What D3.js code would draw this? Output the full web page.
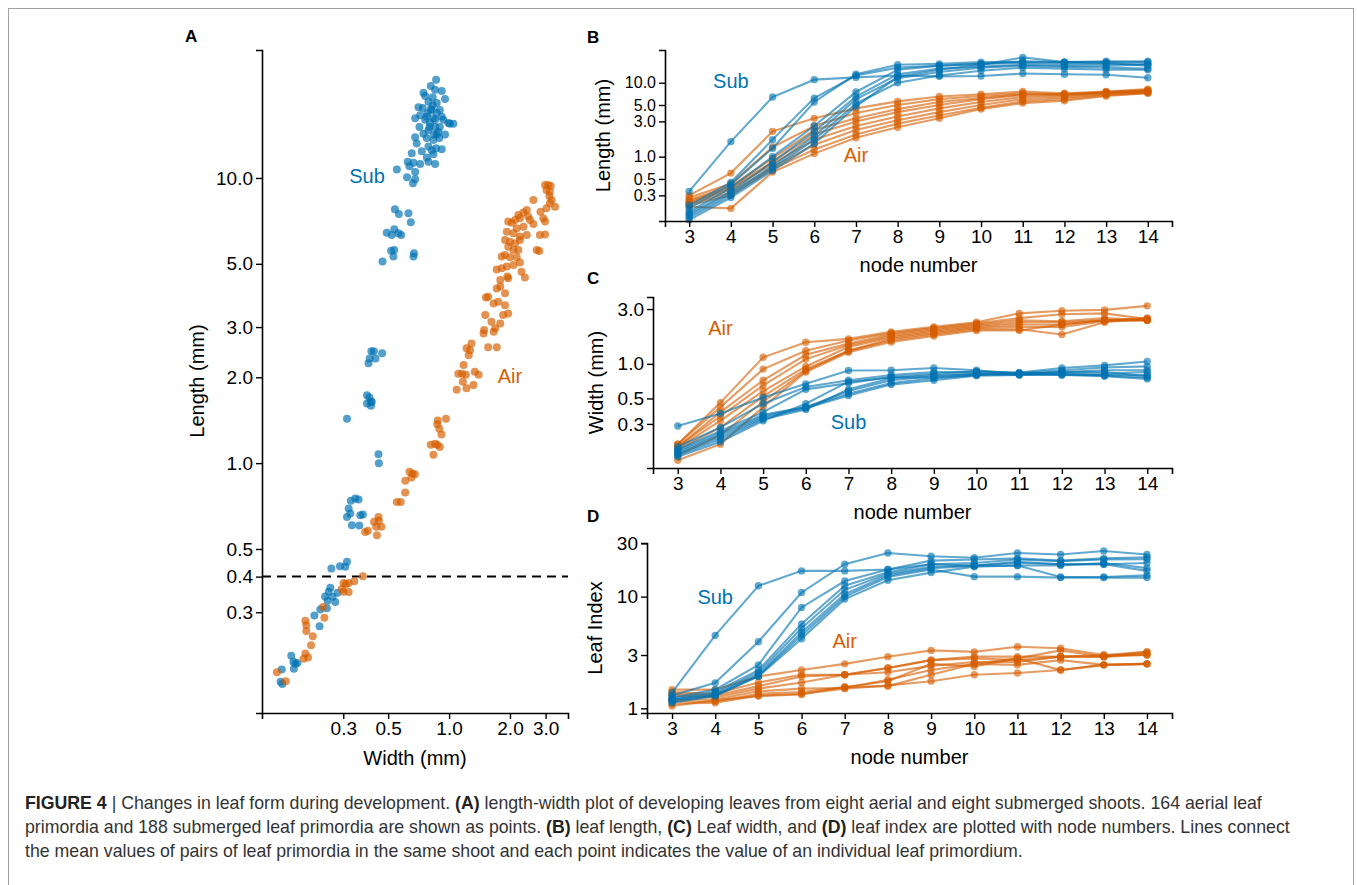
<!DOCTYPE html>
<html>
<head>
<meta charset="utf-8">
<script src="https://cdn.jsdelivr.net/npm/d3@7"></script>
<style>
  body { margin: 0; background: #fff; }
  text { font-family: "Liberation Sans", Arial, Helvetica, sans-serif; }
</style>
</head>
<body>
<svg id="fig" width="1357" height="885"></svg>
<script>
// ---- data ----
var nodes = [3, 4, 5, 6, 7, 8, 9, 10, 11, 12, 13, 14];

// panel A: individual primordia [width, length] in mm
var subPoints = [
  [0.149, 0.189], [0.147, 0.171], [0.150, 0.168], [0.166, 0.211], [0.170, 0.201], [0.174, 0.198],
  [0.178, 0.199], [0.171, 0.190], [0.216, 0.292], [0.229, 0.268], [0.231, 0.307], [0.249, 0.310],
  [0.251, 0.329], [0.244, 0.341], [0.254, 0.354], [0.259, 0.366], [0.266, 0.340], [0.274, 0.326],
  [0.281, 0.351], [0.262, 0.427], [0.289, 0.435], [0.307, 0.433], [0.313, 0.451],
  [0.313, 0.648], [0.319, 0.693], [0.325, 0.666], [0.327, 0.738], [0.344, 0.752], [0.357, 0.745],
  [0.364, 0.657], [0.375, 0.661], [0.331, 0.606], [0.360, 0.605],
  [0.448, 1.075], [0.450, 1.0], [0.313, 1.43],
  [0.393, 1.73], [0.404, 1.70], [0.393, 1.62], [0.411, 1.64], [0.411, 1.59], [0.415, 1.64],
  [0.413, 2.47], [0.425, 2.47], [0.405, 2.33], [0.433, 2.33], [0.400, 2.24], [0.467, 2.43],
  [0.469, 5.09], [0.531, 5.30], [0.536, 5.59], [0.517, 5.56], [0.671, 5.44], [0.667, 5.30],
  [0.492, 6.43], [0.521, 6.31], [0.536, 6.61], [0.562, 6.40], [0.580, 6.31],
  [0.540, 7.76], [0.565, 7.48], [0.630, 7.52], [0.647, 6.99],
  [0.552, 10.7], [0.620, 10.05], [0.663, 9.58], [0.680, 9.89], [0.680, 10.5],
  [0.863, 22.1], [0.812, 21.0], [0.853, 20.4], [0.920, 20.2], [0.747, 19.9], [0.762, 19.4],
  [0.830, 19.2], [0.955, 18.9], [0.791, 18.5], [0.869, 18.3], [0.706, 17.7], [0.741, 17.6],
  [0.812, 17.4], [0.900, 17.3], [0.680, 16.2], [0.776, 16.4], [0.837, 16.2], [0.937, 16.0],
  [0.993, 15.6], [1.050, 15.5], [0.853, 15.1], [0.714, 15.1], [0.791, 14.7], [0.885, 14.5],
  [0.955, 14.2], [0.680, 13.9], [0.776, 13.8], [0.843, 14.2], [0.692, 13.2], [0.791, 12.9],
  [0.863, 12.7], [0.920, 12.6], [0.733, 12.4], [0.654, 12.2], [0.837, 12.1], [0.625, 11.4],
  [0.667, 11.3], [0.720, 11.2], [0.791, 11.4], [0.853, 11.2], [0.637, 11.0], [0.776, 11.8],
  [0.821, 12.5], [0.762, 16.0], [0.806, 15.6], [0.900, 15.1], [0.869, 16.9], [0.830, 18.0],
  [0.782, 16.9], [0.837, 13.6], [0.895, 13.8], [0.821, 17.3], [0.853, 16.0], [0.800, 15.1],
  [0.869, 14.2], [0.747, 14.3], [0.920, 16.4], [0.720, 16.6], [1.010, 15.5]
];

var airPoints = [
  [2.98, 9.45], [3.09, 9.45], [3.18, 9.37], [3.03, 9.08], [3.15, 8.95], [3.13, 8.65],
  [3.21, 8.37], [3.15, 8.15], [3.34, 7.93], [3.03, 7.83], [2.61, 8.37], [2.83, 7.62],
  [2.92, 7.22], [2.98, 7.03], [2.42, 7.72], [2.33, 7.56], [2.20, 7.42], [2.12, 7.12],
  [2.04, 6.97], [1.96, 7.03], [2.24, 7.22], [2.46, 7.32], [2.51, 7.12], [2.61, 6.90],
  [2.33, 6.75], [2.16, 6.66], [1.93, 6.48], [2.08, 6.40], [2.24, 6.23], [2.42, 6.31],
  [2.81, 6.31], [2.98, 6.34], [1.89, 6.06], [2.00, 5.98], [2.12, 5.90], [2.24, 6.06],
  [1.96, 5.74], [2.08, 5.59], [2.20, 5.59], [1.89, 5.37], [2.00, 5.27], [2.16, 5.27],
  [2.71, 5.59], [2.79, 5.54], [1.82, 5.30], [1.72, 4.78], [1.82, 4.82], [1.93, 4.89],
  [2.08, 4.95], [2.24, 5.05], [2.28, 4.69], [2.37, 4.48], [1.96, 4.45], [1.94, 4.51],
  [1.79, 4.39], [1.72, 4.10], [1.79, 4.16], [1.89, 3.94], [1.75, 3.68], [1.56, 3.83],
  [1.52, 3.81], [1.66, 3.63], [1.89, 3.58], [1.96, 3.35], [1.85, 3.31], [1.62, 3.13],
  [1.69, 2.97], [1.79, 3.09], [1.51, 3.31], [1.49, 2.93], [1.48, 2.85], [1.66, 2.89],
  [1.56, 2.55], [1.72, 2.55], [1.29, 2.63], [1.27, 2.49], [1.22, 2.53], [1.25, 2.39],
  [1.18, 2.21], [1.16, 2.06], [1.11, 2.06], [1.21, 2.04], [1.34, 2.09], [1.40, 2.04],
  [1.17, 1.93], [1.32, 1.88], [1.09, 1.81], [1.22, 1.83],
  [0.880, 1.41], [0.966, 1.43], [0.875, 1.37], [0.895, 1.32], [0.917, 1.26], [0.812, 1.16],
  [0.853, 1.17], [0.875, 1.16], [0.900, 1.14], [0.837, 1.07], [0.637, 0.932], [0.659, 0.920],
  [0.677, 0.915], [0.608, 0.867], [0.652, 0.891], [0.607, 0.789], [0.552, 0.730], [0.577, 0.730],
  [0.448, 0.648], [0.426, 0.623], [0.436, 0.598], [0.463, 0.598], [0.450, 0.628], [0.385, 0.574],
  [0.397, 0.579], [0.440, 0.559], [0.375, 0.401], [0.340, 0.385], [0.319, 0.380], [0.301, 0.380],
  [0.309, 0.376], [0.295, 0.362], [0.301, 0.354], [0.319, 0.353], [0.238, 0.313], [0.242, 0.287],
  [0.195, 0.280], [0.197, 0.270], [0.197, 0.258], [0.212, 0.247], [0.208, 0.230], [0.195, 0.215],
  [0.191, 0.206], [0.201, 0.208], [0.141, 0.185], [0.156, 0.172]
];

// panel B: leaf length (mm) per shoot, nodes 3..14
var subLength = [
  [0.34, 1.6, 6.4, 11.0, 11.8, 12.5, 12.2, 12.3, 13.3, 13.0, 12.8, 11.7],
  [0.22, 0.45, 1.7, 6.2, 12.5, 16, 17, 18, 18.5, 18, 18, 18],
  [0.20, 0.42, 1.3, 5.5, 13, 17.5, 18, 19, 19, 19, 19, 19.5],
  [0.18, 0.38, 1.0, 2.6, 7.5, 15, 17, 18, 19.5, 19, 18.5, 17],
  [0.17, 0.34, 0.85, 2.2, 6.5, 13, 15.5, 16.5, 17.5, 17, 17, 17.5],
  [0.16, 0.32, 0.75, 1.9, 6.0, 11.5, 14, 16, 17, 16.5, 16, 15.5],
  [0.15, 0.30, 0.70, 1.7, 5.2, 10, 12.5, 14.5, 16, 15.5, 15, 15],
  [0.14, 0.28, 0.65, 1.5, 4.8, 12, 15, 17.5, 22, 19, 19.5, 19]
];
var airLength = [
  [0.30, 0.60, 2.2, 3.3, 4.5, 5.6, 6.5, 7.0, 7.6, 7.2, 7.6, 8.2],
  [0.28, 0.43, 1.35, 2.6, 3.9, 5.0, 6.0, 6.6, 7.2, 7.0, 7.5, 8.0],
  [0.26, 0.40, 0.95, 2.3, 3.3, 4.4, 5.5, 6.2, 7.0, 7.0, 7.4, 7.8],
  [0.25, 0.38, 0.85, 2.0, 3.0, 4.0, 5.0, 6.0, 6.8, 6.8, 7.3, 7.6],
  [0.24, 0.36, 0.80, 1.7, 2.6, 3.5, 4.5, 5.5, 6.4, 6.6, 7.2, 7.6],
  [0.23, 0.33, 0.72, 1.45, 2.3, 3.1, 4.0, 5.0, 6.0, 6.3, 7.0, 7.4],
  [0.22, 0.30, 0.68, 1.25, 2.0, 2.8, 3.6, 4.6, 5.6, 6.0, 6.8, 7.3],
  [0.21, 0.20, 0.62, 1.1, 1.8, 2.5, 3.3, 4.4, 5.3, 5.7, 6.6, 7.2]
];

// panel C: leaf width (mm)
var subWidth = [
  [0.288, 0.37, 0.51, 0.67, 0.875, 0.88, 0.92, 0.88, 0.82, 0.85, 0.85, 0.78],
  [0.19, 0.28, 0.45, 0.63, 0.72, 0.80, 0.85, 0.85, 0.84, 0.92, 0.97, 1.05],
  [0.18, 0.26, 0.38, 0.60, 0.68, 0.77, 0.82, 0.86, 0.83, 0.88, 0.93, 0.95],
  [0.175, 0.25, 0.36, 0.42, 0.58, 0.72, 0.78, 0.82, 0.81, 0.85, 0.88, 0.88],
  [0.17, 0.24, 0.35, 0.42, 0.55, 0.68, 0.75, 0.80, 0.82, 0.83, 0.82, 0.85],
  [0.165, 0.23, 0.34, 0.41, 0.53, 0.66, 0.72, 0.79, 0.80, 0.80, 0.80, 0.80],
  [0.16, 0.22, 0.33, 0.40, 0.60, 0.75, 0.80, 0.82, 0.80, 0.82, 0.79, 0.76],
  [0.155, 0.21, 0.32, 0.45, 0.70, 0.76, 0.76, 0.80, 0.83, 0.80, 0.78, 0.74]
];
var airWidth = [
  [0.20, 0.46, 1.14, 1.54, 1.65, 1.9, 2.1, 2.3, 2.75, 2.9, 2.95, 3.2],
  [0.20, 0.42, 0.90, 1.3, 1.6, 1.85, 2.05, 2.25, 2.5, 2.7, 2.75, 2.45],
  [0.19, 0.38, 0.72, 1.2, 1.5, 1.8, 2.0, 2.2, 2.4, 2.35, 2.5, 2.4],
  [0.19, 0.35, 0.65, 1.1, 1.45, 1.75, 1.95, 2.15, 2.3, 2.3, 2.4, 2.4],
  [0.185, 0.32, 0.58, 0.95, 1.4, 1.7, 1.9, 2.1, 2.2, 2.2, 2.4, 2.5],
  [0.18, 0.28, 0.52, 0.90, 1.3, 1.65, 1.85, 2.05, 2.1, 2.1, 2.35, 2.4],
  [0.16, 0.24, 0.47, 0.87, 1.3, 1.6, 1.8, 2.0, 2.0, 1.8, 2.3, 2.5],
  [0.145, 0.20, 0.42, 0.85, 1.26, 1.55, 1.75, 1.95, 1.95, 2.2, 2.4, 2.4]
];

// panel D: leaf index
var subIndex = [
  [1.38, 4.5, 12.5, 17, 17, 17.5, 19.5, 19, 20, 19.5, 19.5, 17],
  [1.30, 1.69, 3.94, 10.9, 19.5, 24.6, 23, 22.3, 24.6, 23.8, 25.6, 23.8],
  [1.25, 1.47, 2.45, 8.0, 13.8, 17.5, 21, 21.5, 22, 21, 22, 22.5],
  [1.22, 1.40, 2.2, 5.7, 12.5, 16.5, 19.5, 20, 21.5, 20.8, 21.5, 21.6],
  [1.20, 1.35, 2.1, 5.2, 11.5, 16, 18.5, 19, 20.5, 19.5, 19.5, 20],
  [1.18, 1.32, 2.0, 4.8, 10.5, 15.5, 18, 18.8, 19, 15, 15, 15.5],
  [1.15, 1.30, 1.95, 4.5, 10, 15, 17.5, 15.1, 15.1, 14.8, 14.8, 14.8],
  [1.12, 1.29, 1.93, 4.2, 9.5, 14, 16.4, 18.5, 19, 19, 20, 18]
];
var airIndex = [
  [1.47, 1.47, 1.93, 2.2, 2.5, 2.9, 3.3, 3.2, 3.56, 3.45, 3.0, 3.2],
  [1.40, 1.35, 1.70, 2.0, 2.0, 2.3, 2.7, 2.9, 2.9, 2.9, 3.0, 3.0],
  [1.35, 1.30, 1.58, 1.93, 2.0, 2.3, 2.7, 2.8, 2.7, 2.9, 2.9, 3.2],
  [1.30, 1.25, 1.50, 1.7, 2.0, 2.1, 2.4, 2.6, 2.6, 2.9, 2.9, 3.0],
  [1.20, 1.20, 1.42, 1.5, 1.52, 1.8, 2.2, 2.5, 2.45, 2.7, 2.45, 2.5],
  [1.15, 1.15, 1.35, 1.4, 1.55, 1.75, 2.5, 2.37, 2.8, 2.2, 2.45, 2.5],
  [1.10, 1.12, 1.30, 1.35, 1.5, 1.6, 1.75, 2.0, 2.07, 2.2, 2.45, 2.5],
  [1.05, 1.18, 1.29, 1.33, 1.55, 1.58, 2.0, 2.5, 2.8, 3.3, 2.9, 3.1]
];

var lengthTicksA = [0.3, 0.4, 0.5, 1, 2, 3, 5, 10];
var widthTicksA = [0.3, 0.5, 1, 2, 3];
var lengthTicksB = [0.3, 0.5, 1, 3, 5, 10];
var widthTicksC = [0.3, 0.5, 1, 3];
var indexTicksD = [1, 3, 10, 30];
var cutoff = 0.4;

var captionLines = [
  [["FIGURE 4", true], [" | Changes in leaf form during development. ", false], ["(A)", true],
   [" length-width plot of developing leaves from eight aerial and eight submerged shoots. 164 aerial leaf", false]],
  [["primordia and 188 submerged leaf primordia are shown as points. ", false], ["(B)", true],
   [" leaf length, ", false], ["(C)", true], [" Leaf width, and ", false], ["(D)", true],
   [" leaf index are plotted with node numbers. Lines connect", false]],
  [["the mean values of pairs of leaf primordia in the same shoot and each point indicates the value of an individual leaf primordium.", false]]
];

// ---- drawing ----
var blue = "#0072B2", orange = "#D55E00";
var svg = d3.select("#fig");
var fmt1 = d3.format(".1f");

svg.append("rect")
  .attr("x", 8.5).attr("y", 8.5).attr("width", 1345).attr("height", 900)
  .attr("fill", "none").attr("stroke", "#a0a0a0").attr("stroke-width", 1);

function styleAxis(size) {
  return function(g) {
    g.select(".domain").attr("stroke", "#000").attr("stroke-width", 1.6);
    g.selectAll(".tick line").attr("stroke", "#000").attr("stroke-width", 1.4);
    g.selectAll(".tick text").attr("fill", "#000").style("font-size", size + "px")
      .style("font-family", '"Liberation Sans", Arial, sans-serif');
  };
}

function panelLetter(txt, x, y) {
  svg.append("text").attr("x", x).attr("y", y).text(txt)
    .style("font-size", "17px").style("font-weight", "bold").attr("fill", "#000");
}

function yLabel(txt, x, y) {
  svg.append("text").attr("transform", "translate(" + x + "," + y + ") rotate(-90)")
    .attr("text-anchor", "middle").style("font-size", "20px").attr("fill", "#000").text(txt);
}

function xLabel(txt, x, y) {
  svg.append("text").attr("x", x).attr("y", y).attr("text-anchor", "middle")
    .style("font-size", "20px").attr("fill", "#000").text(txt);
}

function note(txt, x, y, color) {
  svg.append("text").attr("x", x).attr("y", y).attr("text-anchor", "middle")
    .attr("dominant-baseline", "middle").style("font-size", "20px").attr("fill", color).text(txt);
}

// Panel A
var xA = d3.scaleLog().domain([0.119, 3.87]).range([262, 568]);
var yA = d3.scaleLog().domain([0.133, 28.1]).range([713, 50]);

svg.append("line")
  .attr("x1", xA.range()[0]).attr("x2", xA.range()[1])
  .attr("y1", yA(cutoff)).attr("y2", yA(cutoff))
  .attr("stroke", "#000").attr("stroke-width", 2).attr("stroke-dasharray", "9,6");

var gA = svg.append("g");
gA.selectAll("circle.sub").data(subPoints).enter().append("circle")
  .attr("class", "sub")
  .attr("cx", function(d) { return xA(d[0]); })
  .attr("cy", function(d) { return yA(d[1]); })
  .attr("r", 4).attr("fill", blue).attr("fill-opacity", 0.68);
gA.selectAll("circle.air").data(airPoints).enter().append("circle")
  .attr("class", "air")
  .attr("cx", function(d) { return xA(d[0]); })
  .attr("cy", function(d) { return yA(d[1]); })
  .attr("r", 4).attr("fill", orange).attr("fill-opacity", 0.68);

svg.append("g").attr("transform", "translate(262,0)")
  .call(d3.axisLeft(yA).tickValues(lengthTicksA).tickFormat(fmt1).tickSizeOuter(0).tickSize(6))
  .call(styleAxis(19));
svg.append("g").attr("transform", "translate(0,713)")
  .call(d3.axisBottom(xA).tickValues(widthTicksA).tickFormat(fmt1).tickSizeOuter(0).tickSize(6))
  .call(styleAxis(19));

panelLetter("A", 185, 42);
yLabel("Length (mm)", 204, 381);
xLabel("Width (mm)", 415, 765);
note("Sub", xA(0.393), yA(10), blue);
note("Air", xA(2.0), yA(2.0), orange);

// node panels
function nodePanel(opt) {
  var x = d3.scaleLinear().domain([2.42, 14.58]).range([opt.left, 1172]);
  var y = d3.scaleLog().domain(opt.ydom).range([opt.bottom, opt.top]);
  var line = d3.line()
    .x(function(d, i) { return x(nodes[i]); })
    .y(function(d) { return y(d); });

  var g = svg.append("g");
  [[opt.air, orange], [opt.sub, blue]].forEach(function(s) {
    var series = s[0], color = s[1];
    g.selectAll(null).data(series).enter().append("path")
      .attr("d", line).attr("fill", "none")
      .attr("stroke", color).attr("stroke-width", 2.1).attr("stroke-opacity", 0.62);
    series.forEach(function(shoot) {
      g.selectAll(null).data(shoot).enter().append("circle")
        .attr("cx", function(d, i) { return x(nodes[i]); })
        .attr("cy", function(d) { return y(d); })
        .attr("r", 3.7).attr("fill", color).attr("fill-opacity", 0.62);
    });
  });

  svg.append("g").attr("transform", "translate(" + opt.left + ",0)")
    .call(d3.axisLeft(y).tickValues(opt.ticks).tickFormat(opt.fmt).tickSizeOuter(0).tickSize(6))
    .call(styleAxis(opt.ytickSize));
  svg.append("g").attr("transform", "translate(0," + opt.bottom + ")")
    .call(d3.axisBottom(x).tickValues(nodes).tickFormat(d3.format("d")).tickSizeOuter(0).tickSize(6))
    .call(styleAxis(19));

  panelLetter(opt.letter, 587, opt.letterY);
  yLabel(opt.ylabel, opt.labelX, (opt.top + opt.bottom) / 2);
  xLabel("node number", (opt.left + 1172) / 2, opt.bottom + 51);
  opt.notes.forEach(function(n) { note(n[0], x(n[1]), y(n[2]), n[3]); });
}

nodePanel({
  letter: "B", letterY: 43, left: 665, top: 50, bottom: 221, ydom: [0.135, 27.7],
  sub: subLength, air: airLength, ticks: lengthTicksB, fmt: fmt1, ytickSize: 16,
  ylabel: "Length (mm)", labelX: 610,
  notes: [["Sub", 4.0, 10, blue], ["Air", 7.0, 1.0, orange]]
});
nodePanel({
  letter: "C", letterY: 284, left: 653, top: 297, bottom: 468, ydom: [0.124, 3.82],
  sub: subWidth, air: airWidth, ticks: widthTicksC, fmt: fmt1, ytickSize: 19,
  ylabel: "Width (mm)", labelX: 603,
  notes: [["Air", 4.0, 2.0, orange], ["Sub", 7.0, 0.30, blue]]
});
nodePanel({
  letter: "D", letterY: 522, left: 647, top: 543, bottom: 713, ydom: [0.908, 30.2],
  sub: subIndex, air: airIndex, ticks: indexTicksD, fmt: d3.format("d"), ytickSize: 19,
  ylabel: "Leaf Index", labelX: 602,
  notes: [["Sub", 4.0, 9.5, blue], ["Air", 7.0, 3.9, orange]]
});

// caption
var cap = svg.append("g");
var capTexts = captionLines.map(function(parts, i) {
  var t = cap.append("text").attr("x", 25).attr("y", 809 + i * 24)
    .style("font-size", "16px").attr("fill", "#333");
  parts.forEach(function(p) {
    t.append("tspan").text(p[0]).style("font-weight", p[1] ? "bold" : "normal")
      .attr("fill", p[1] ? "#222" : "#333");
  });
  return t;
});
var w2 = capTexts[1].node().getComputedTextLength();
var capSize = 16 * 1265 / w2;
capTexts.forEach(function(t) { t.style("font-size", capSize + "px"); });
</script>
</body>
</html>
